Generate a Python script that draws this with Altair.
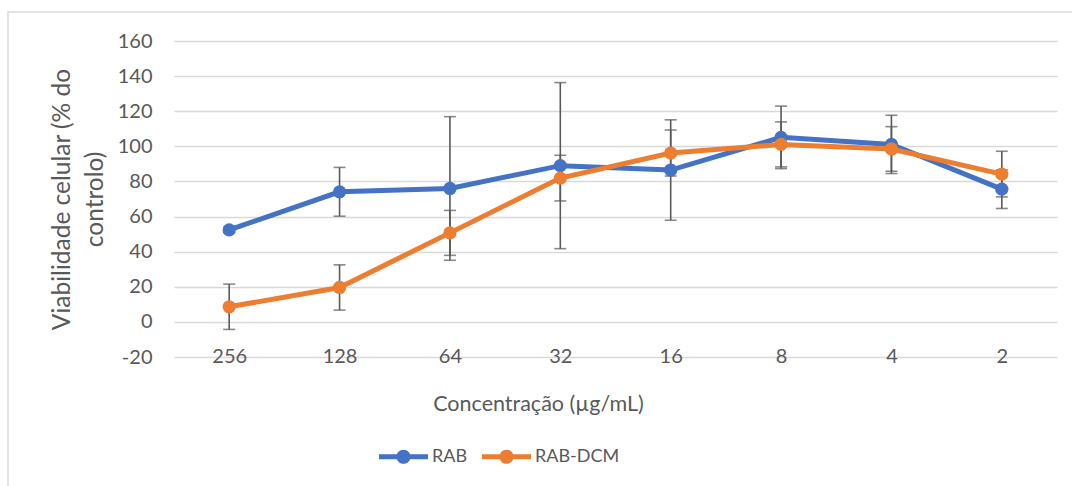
import altair as alt
import pandas as pd

conc = ["256", "128", "64", "32", "16", "8", "4", "2"]
rab = [52.4, 74.1, 76.0, 89.0, 86.5, 105.1, 101.1, 75.6]
rab_err = [1.5, 13.9, 40.9, 47.3, 28.6, 17.8, 16.6, 11.0]
dcm = [8.6, 19.6, 50.7, 81.9, 96.2, 101.1, 98.5, 84.2]
dcm_err = [12.9, 12.9, 12.8, 13.0, 13.1, 12.8, 12.7, 13.0]
series = ["RAB", "RAB-DCM"]
colors = ["#4472C4", "#ED7D31"]

rows = []
for s, vals, errs in [("RAB", rab, rab_err), ("RAB-DCM", dcm, dcm_err)]:
    for c, v, e in zip(conc, vals, errs):
        rows.append({"conc": c, "serie": s, "v": v, "lo": v - e, "hi": v + e})
df = pd.DataFrame(rows)

FONT = "Lato"
TXT = "#595959"
W, H = 883, 316

sym = ("M-1,-0.1 L1,-0.1 L1,0.1 L-1,0.1 Z "
       "M0,-0.29 A0.29,0.29 0 1,1 0,0.29 A0.29,0.29 0 1,1 0,-0.29 Z")

color_scale = alt.Scale(domain=series, range=colors)
legend = alt.Legend(
    title=None, orient="none", direction="horizontal",
    legendX=205, legendY=391,
    symbolType=sym, symbolSize=2401, symbolStrokeWidth=0, symbolOpacity=1,
    labelFont=FONT, labelFontSize=18, labelColor=TXT, labelOffset=4,
    columnPadding=14,
)

x_enc = alt.X(
    "conc:N", sort=conc,
    scale=alt.Scale(type="point", padding=0.5),
    axis=alt.Axis(
        title="Concentração (µg/mL)", domain=False, ticks=False, grid=False,
        labelAngle=0, labelPadding=-11, labelFont=FONT, labelFontSize=20,
        labelColor=TXT, titleFont=FONT, titleFontSize=21.5, titleColor=TXT,
        titleFontWeight="normal", titleX=364, titleY=53, titleAlign="center",
        titleBaseline="alphabetic",
    ),
)
y_scale = alt.Scale(domain=[-20, 160], nice=False, zero=False)
y_axis = alt.Axis(
    title=["Viabilidade celular (% do", "controlo)"],
    values=list(range(-20, 161, 20)), domain=False, ticks=False,
    labelExpr="'' + datum.value",
    grid=True, gridColor="#d9d9d9", gridWidth=1.3,
    labelPadding=22, labelFont=FONT, labelFontSize=20, labelColor=TXT,
    titleFont=FONT, titleFontSize=24.5, titleColor=TXT, titleFontWeight="normal",
    titleLineHeight=33, titlePadding=10,
)

base = alt.Chart(df)

frame = alt.Chart(pd.DataFrame({"k": [0]})).mark_rect(
    fill="white", fillOpacity=0, stroke="#d9d9d9", strokeWidth=1.5
).encode(
    x=alt.value(-166), y=alt.value(-29), x2=alt.value(W + 30), y2=alt.value(H + 200)
)

err_rule = base.mark_rule(color="#595959", strokeWidth=1.6).encode(
    x=x_enc, y=alt.Y("lo:Q", scale=y_scale, axis=y_axis), y2="hi:Q"
)
cap_lo = base.mark_tick(color="#595959", thickness=1.6, size=12, orient="horizontal").encode(
    x=x_enc, y=alt.Y("lo:Q", scale=y_scale, axis=y_axis)
)
cap_hi = base.mark_tick(color="#595959", thickness=1.6, size=12, orient="horizontal").encode(
    x=x_enc, y=alt.Y("hi:Q", scale=y_scale, axis=y_axis)
)

layers = [frame, err_rule, cap_lo, cap_hi]
for s in series:
    sub = base.transform_filter(alt.datum.serie == s)
    line = sub.mark_line(strokeWidth=5).encode(
        x=x_enc, y=alt.Y("v:Q", scale=y_scale, axis=y_axis),
        color=alt.Color("serie:N", scale=color_scale, legend=legend),
    )
    pts = sub.mark_circle(size=175, opacity=1).encode(
        x=x_enc, y=alt.Y("v:Q", scale=y_scale, axis=y_axis),
        color=alt.Color("serie:N", scale=color_scale, legend=legend),
    )
    layers += [line, pts]

chart = alt.layer(*layers).properties(
    width=W, height=H,
    autosize=alt.AutoSizeParams(type="none"),
    padding={"left": 174, "top": 41, "right": 15, "bottom": 129},
    background="white",
).configure_view(stroke=None)

chart.save("out.html", embed_options={"renderer": "svg", "actions": False})
